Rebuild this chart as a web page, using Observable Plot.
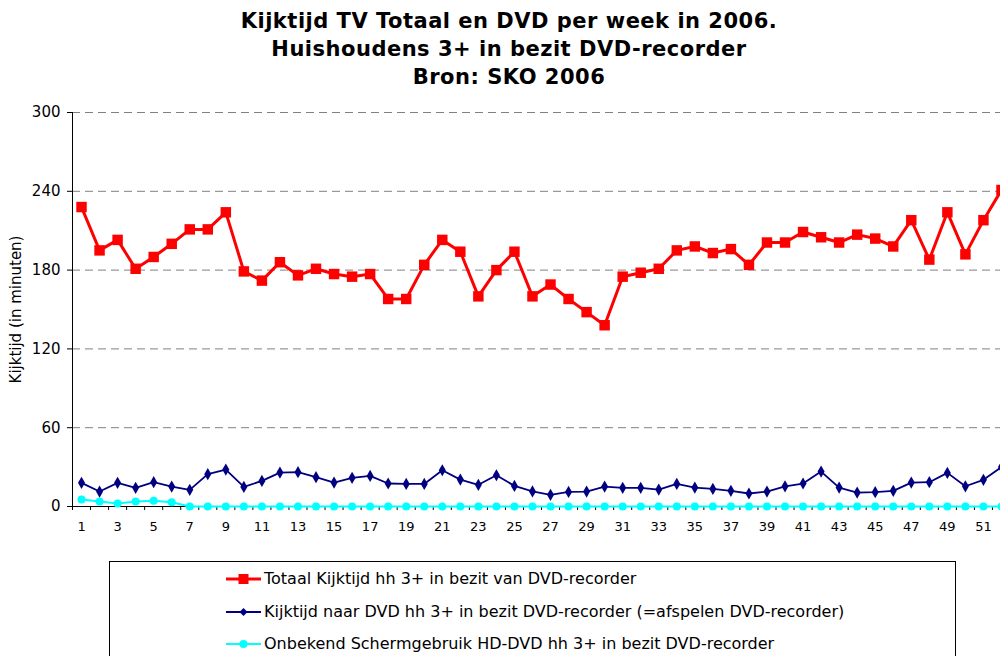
<!DOCTYPE html>
<html>
<head>
<meta charset="utf-8">
<script src="https://cdn.jsdelivr.net/npm/d3@7"></script>
<script src="https://cdn.jsdelivr.net/npm/@observablehq/plot@0.6"></script>
<style>
  html, body { margin: 0; padding: 0; background: #fff; overflow: hidden; width: 1000px; height: 656px; }
  body { position: relative; font-family: "DejaVu Sans", Verdana, sans-serif; color: #000; }
  #title { position: absolute; left: 0; top: 7px; width: 1018px; text-align: center; font-weight: bold; font-size: 21px; letter-spacing: 0.5px; line-height: 28px; }
  #chart { position: absolute; left: 0; top: 0; width: 1010px; }
  #chart svg { max-width: none !important; }
  #chart g[aria-label="y-axis tick label"] { font-size: 15px; }
  #chart g[aria-label="x-axis tick label"] { font-size: 13px; }
  #chart g[aria-label="text"] { font-size: 15px; }
  #legend { position: absolute; left: 109px; top: 561px; width: 845px; height: 140px; border: 1px solid #000; background: #fff; }
  .row { position: absolute; left: 116px; height: 20px; display: flex; align-items: center; font-size: 16px; line-height: 20px; white-space: nowrap; }
  .row svg { margin-right: 3px; }
</style>
</head>
<body>
<div id="title"></div>
<div id="chart"></div>
<div id="legend"></div>
<script>
const titleLines = [
  "Kijktijd TV Totaal en DVD per week in 2006.",
  "Huishoudens 3+ in bezit DVD-recorder",
  "Bron: SKO 2006"
];
const yLabel = "Kijktijd (in minuten)";
const weeks = d3.range(1, 53);
const xTickLabels = weeks.filter(w => w % 2 === 1);
const yTicks = [0, 60, 120, 180, 240, 300];
const seriesNames = [
  "Totaal Kijktijd hh 3+ in bezit van DVD-recorder",
  "Kijktijd naar DVD hh 3+ in bezit DVD-recorder (=afspelen DVD-recorder)",
  "Onbekend Schermgebruik HD-DVD hh 3+ in bezit DVD-recorder"
];
const totaal = [228, 195, 203, 181, 190, 200, 211, 211, 224, 179, 172, 186, 176, 181, 177, 175, 177, 158, 158, 184,
  203, 194, 160, 180, 194, 160, 169, 158, 148, 138, 175, 178, 181, 195, 198, 193, 196, 184, 201, 201,
  209, 205, 201, 207, 204, 198, 218, 188, 224, 192, 218, 241];
const dvd = [18, 11.4, 18, 14.2, 18.5, 15.2, 12.7, 24.6, 28.1, 14.9, 19.5, 25.8, 26.1, 22.3, 18.2, 21.8, 23.3, 17.5, 17.2, 17.2,
  27.6, 20.5, 16.5, 23.8, 15.7, 11.5, 8.9, 11.1, 11.4, 15.2, 14.2, 14.2, 12.9, 17.2, 14.4, 13.4, 11.9, 9.9, 11.4, 15.4,
  17.5, 26.6, 14.4, 10.6, 10.9, 11.9, 18.2, 18.5, 25.6, 15.4, 20.3, 30];
const onbekend = [5.3, 3.8, 2.3, 3.8, 4.3, 3.3, 0, 0, 0, 0, 0, 0, 0, 0, 0, 0, 0, 0, 0, 0,
  0, 0, 0, 0, 0, 0, 0, 0, 0, 0, 0, 0, 0, 0, 0, 0, 0, 0, 0, 0,
  0, 0, 0, 0, 0, 0, 0, 0, 0, 0, 0, 0];
const colors = ["#ff0000", "#000080", "#00ffff"];

document.getElementById("title").innerHTML = titleLines.map(t => `<div>${t}</div>`).join("");

const toRows = vals => weeks.map((w, i) => ({week: w, v: vals[i]}));
const rTot = toRows(totaal), rDvd = toRows(dvd), rOnb = toRows(onbekend);
const boundaries = d3.range(0, 53).map(i => i + 0.5);

const chart = Plot.plot({
  width: 1010,
  height: 560,
  marginTop: 112,
  marginBottom: 54,
  marginLeft: 72,
  marginRight: 0,
  style: {fontFamily: "DejaVu Sans, Verdana, sans-serif", color: "#000", background: "transparent", overflow: "visible", maxWidth: "none"},
  x: {type: "linear", domain: [0.5, 52.5]},
  y: {domain: [0, 300]},
  marks: [
    Plot.ruleY(yTicks.filter(t => t > 0), {stroke: "#808080", strokeDasharray: "8,5", strokeWidth: 1}),
    Plot.axisY(yTicks, {tickSize: 5, tickPadding: 7, fontSize: 15, label: null, strokeOpacity: 1}),
    Plot.axisX(boundaries, {tickSize: 4, tickFormat: () => "", label: null, strokeOpacity: 1}),
    Plot.axisX(xTickLabels, {tickSize: 0, tickPadding: 15, fontSize: 13, label: null}),
    Plot.frame({anchor: "left", stroke: "#000"}),
    Plot.frame({anchor: "bottom", stroke: "#000"}),
    Plot.text([yLabel], {text: d => d, frameAnchor: "left", textAnchor: "middle", rotate: -90, dx: -56, fontSize: 15, fill: "#000"}),
    Plot.line(rOnb, {x: "week", y: "v", stroke: colors[2], strokeWidth: 2}),
    Plot.dot(rOnb, {x: "week", y: "v", fill: colors[2], r: 4, symbol: "circle"}),
    Plot.line(rDvd, {x: "week", y: "v", stroke: colors[1], strokeWidth: 1.8}),
    Plot.dot(rDvd, {x: "week", y: "v", fill: colors[1], r: 3.7, symbol: "diamond"}),
    Plot.line(rTot, {x: "week", y: "v", stroke: colors[0], strokeWidth: 3}),
    Plot.dot(rTot, {x: "week", y: "v", fill: colors[0], r: 5.9, symbol: "square"})
  ]
});
document.getElementById("chart").appendChild(chart);

const swatches = [
  `<svg width="35" height="14"><line x1="0" y1="7" x2="35" y2="7" stroke="${colors[0]}" stroke-width="3"/><rect x="12.5" y="2" width="10" height="10" fill="${colors[0]}"/></svg>`,
  `<svg width="35" height="14"><line x1="0" y1="7" x2="35" y2="7" stroke="${colors[1]}" stroke-width="1.8"/><path d="M17.5,3 L21.5,7 L17.5,11 L13.5,7 Z" fill="${colors[1]}"/></svg>`,
  `<svg width="35" height="14"><line x1="0" y1="7" x2="35" y2="7" stroke="${colors[2]}" stroke-width="2"/><circle cx="17.5" cy="7" r="4" fill="${colors[2]}"/></svg>`
];
const rowTops = [7, 39.5, 72];
document.getElementById("legend").innerHTML = seriesNames.map((n, i) =>
  `<div class="row" style="top:${rowTops[i]}px">${swatches[i]}<span>${n}</span></div>`).join("");
</script>
</body>
</html>
